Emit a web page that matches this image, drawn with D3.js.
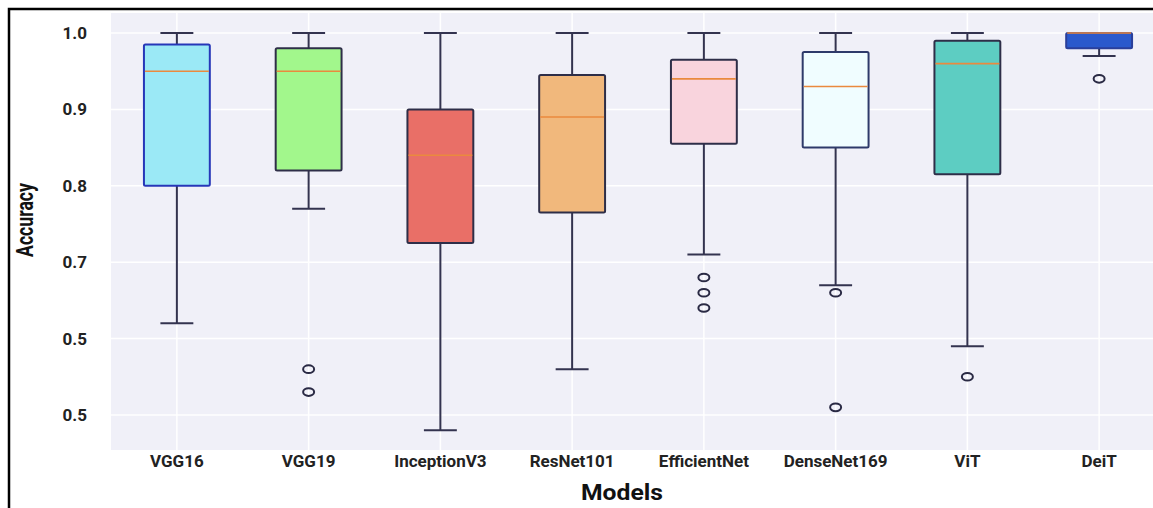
<!DOCTYPE html>
<html>
<head>
<meta charset="utf-8">
<script src="https://cdn.jsdelivr.net/npm/d3@7"></script>
<style>
  html, body { margin: 0; padding: 0; background: #fff; }
  svg { display: block; overflow: hidden; }
</style>
</head>
<body>
<svg id="chart" width="1153" height="508"></svg>
<script>
// data
const models = ['VGG16', 'VGG19', 'InceptionV3', 'ResNet101', 'EfficientNet', 'DenseNet169', 'ViT', 'DeiT'];
const whiskerHigh = [1.0, 1.0, 1.0, 1.0, 1.0, 1.0, 1.0, 1.0];
const q3 = [0.985, 0.98, 0.90, 0.945, 0.965, 0.975, 0.99, 1.0];
const medians = [0.95, 0.95, 0.84, 0.89, 0.94, 0.93, 0.96, 1.0];
const q1 = [0.80, 0.82, 0.725, 0.765, 0.855, 0.85, 0.815, 0.98];
const whiskerLow = [0.62, 0.77, 0.48, 0.56, 0.71, 0.67, 0.59, 0.97];
const outliers = [[], [0.56, 0.53], [], [], [0.68, 0.66, 0.64], [0.66, 0.51], [0.55], [0.94]];
const fills = ['#9be9f6', '#a2f78c', '#e96f67', '#f1b87c', '#f9d4dd', '#f0fdff', '#5dcdc2', '#2a59cc'];
const edges = ['#2637b8', '#2e2e48', '#2e2e48', '#2e2e48', '#2e2e48', '#2e3a6a', '#2e2e48', '#2a3f9a'];

const tickValues = [0.5, 0.6, 0.7, 0.8, 0.9, 1.0];
const tickLabels = ['0.5', '0.5', '0.7', '0.8', '0.9', '1.0'];

const svg = d3.select('#chart');
const plot = { left: 111, right: 1165, top: 13, bottom: 450 };

const x = d3.scaleBand().domain(models).range([plot.left, plot.right]).padding(0);
const y = d3.scaleLinear().domain([0.4542, 1.0262]).range([plot.bottom, plot.top]);

// outer frame
svg.append('path')
  .attr('d', 'M9,520 V9 H1160')
  .attr('fill', 'none')
  .attr('stroke', '#000')
  .attr('stroke-width', 2.5);

// plot background
svg.append('rect')
  .attr('x', plot.left).attr('y', plot.top)
  .attr('width', plot.right - plot.left).attr('height', plot.bottom - plot.top)
  .attr('fill', '#f0f0f8');

// grid
const grid = svg.append('g').attr('class', 'grid');
grid.selectAll('line.h').data(tickValues).join('line')
  .attr('class', 'h')
  .attr('x1', plot.left).attr('x2', plot.right)
  .attr('y1', d => y(d)).attr('y2', d => y(d))
  .attr('stroke', '#fff').attr('stroke-width', 1.5);
grid.selectAll('line.v').data(models).join('line')
  .attr('class', 'v')
  .attr('x1', d => x(d) + x.bandwidth() / 2).attr('x2', d => x(d) + x.bandwidth() / 2)
  .attr('y1', plot.top).attr('y2', plot.bottom)
  .attr('stroke', '#fff').attr('stroke-width', 1.5);

// axes
const yAxis = d3.axisLeft(y)
  .tickValues(tickValues)
  .tickFormat((d, i) => tickLabels[i])
  .tickSize(0).tickPadding(24);
svg.append('g')
  .attr('transform', `translate(${plot.left},0)`)
  .call(yAxis)
  .call(g => g.select('.domain').remove())
  .selectAll('text')
  .attr('font-family', 'Roboto, "Liberation Sans", sans-serif')
  .attr('font-weight', 'bold')
  .attr('font-size', 17)
  .attr('fill', '#222');

const xAxis = d3.axisBottom(x).tickSize(0).tickPadding(5);
svg.append('g')
  .attr('transform', `translate(0,${plot.bottom})`)
  .call(xAxis)
  .call(g => g.select('.domain').remove())
  .selectAll('text')
  .attr('font-family', 'Roboto, "Liberation Sans", sans-serif')
  .attr('font-weight', 'bold')
  .attr('font-size', 17)
  .attr('fill', '#222');

// axis titles (the original uses a condensed face)
svg.append('text')
  .attr('transform', 'translate(33,220) rotate(-90)')
  .attr('text-anchor', 'middle')
  .attr('font-family', 'Roboto, "Liberation Sans", sans-serif')
  .attr('font-weight', 'bold')
  .attr('font-size', 23)
  .attr('textLength', 74)
  .attr('lengthAdjust', 'spacingAndGlyphs')
  .attr('fill', '#111')
  .text('Accuracy');

svg.append('text')
  .attr('x', 622).attr('y', 500)
  .attr('text-anchor', 'middle')
  .attr('font-family', 'Roboto, "Liberation Sans", sans-serif')
  .attr('font-weight', 'bold')
  .attr('font-size', 22)
  .attr('textLength', 82)
  .attr('lengthAdjust', 'spacingAndGlyphs')
  .attr('fill', '#111')
  .text('Models');

// boxes
const boxW = x.bandwidth() * 0.5;
const capW = x.bandwidth() * 0.25;
const idx = d3.range(models.length);
const boxes = svg.append('g').selectAll('g.box').data(idx).join('g')
  .attr('class', 'box')
  .attr('transform', i => `translate(${x(models[i]) + x.bandwidth() / 2},0)`);

// whiskers
boxes.append('line')
  .attr('x1', 0).attr('x2', 0)
  .attr('y1', i => y(whiskerHigh[i])).attr('y2', i => y(q3[i]))
  .attr('stroke', '#33334f').attr('stroke-width', 2);
boxes.append('line')
  .attr('x1', 0).attr('x2', 0)
  .attr('y1', i => y(q1[i])).attr('y2', i => y(whiskerLow[i]))
  .attr('stroke', '#33334f').attr('stroke-width', 2);
boxes.append('line')
  .attr('x1', -capW / 2).attr('x2', capW / 2)
  .attr('y1', i => y(whiskerHigh[i])).attr('y2', i => y(whiskerHigh[i]))
  .attr('stroke', '#33334f').attr('stroke-width', 2);
boxes.append('line')
  .attr('x1', -capW / 2).attr('x2', capW / 2)
  .attr('y1', i => y(whiskerLow[i])).attr('y2', i => y(whiskerLow[i]))
  .attr('stroke', '#33334f').attr('stroke-width', 2);

boxes.append('rect')
  .attr('x', -boxW / 2).attr('width', boxW)
  .attr('y', i => y(q3[i]))
  .attr('height', i => y(q1[i]) - y(q3[i]))
  .attr('rx', 1.5)
  .attr('fill', i => fills[i])
  .attr('stroke', i => edges[i])
  .attr('stroke-width', 2);

boxes.append('line')
  .attr('x1', -boxW / 2 + 1).attr('x2', boxW / 2 - 1)
  .attr('y1', i => y(medians[i])).attr('y2', i => y(medians[i]))
  .attr('stroke', '#ea8a3e').attr('stroke-width', 1.6);

// outliers
boxes.selectAll('ellipse').data(i => outliers[i]).join('ellipse')
  .attr('cx', 0).attr('cy', d => y(d))
  .attr('rx', 5.5).attr('ry', 3.8)
  .attr('fill', 'none')
  .attr('stroke', '#2a2a44').attr('stroke-width', 2);
</script>
</body>
</html>
